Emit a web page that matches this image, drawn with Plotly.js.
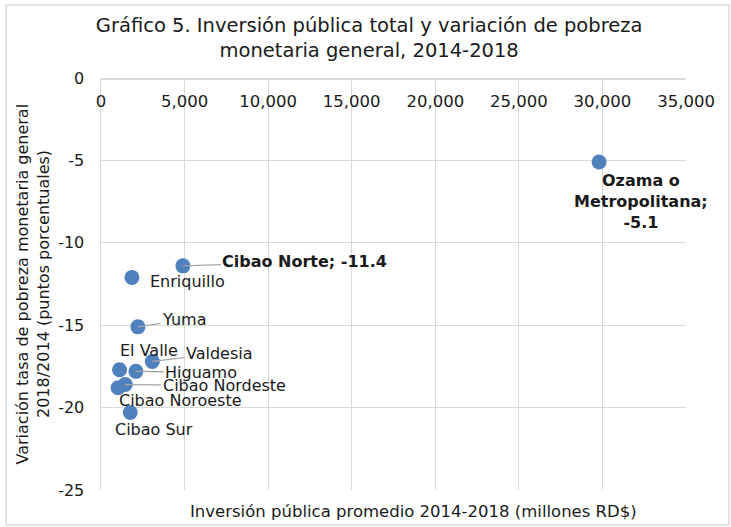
<!DOCTYPE html>
<html>
<head>
<meta charset="utf-8">
<script src="https://cdn.plot.ly/plotly-3.0.1.min.js"></script>
<style>html,body{margin:0;padding:0;background:#fff;}#chart{width:731px;height:527px;}</style>
</head>
<body>
<div id="chart"></div>
<script>
// ---- data ----
const regiones = ["Ozama o Metropolitana", "Cibao Norte", "Enriquillo", "Yuma", "Valdesia", "El Valle", "Higuamo", "Cibao Nordeste", "Cibao Noroeste", "Cibao Sur"];
const inversion = [29800, 4900, 1850, 2210, 3070, 1110, 2090, 1450, 1020, 1750];
const variacion = [-5.1, -11.4, -12.1, -15.1, -17.2, -17.7, -17.8, -18.6, -18.8, -20.3];
const labelTexts = ["<b>Ozama o<br>Metropolitana;<br>-5.1</b>", "<b>Cibao Norte; -11.4</b>", "Enriquillo", "Yuma", "Valdesia", "El Valle", "Higuamo", "Cibao Nordeste", "Cibao Noroeste", "Cibao Sur"];
const xTickVals = [0, 5000, 10000, 15000, 20000, 25000, 30000, 35000];
const xTickText = ["0", "5,000", "10,000", "15,000", "20,000", "25,000", "30,000", "35,000"];
const yTickVals = [0, -5, -10, -15, -20, -25];
const yTickText = ["0", "-5", "-10", "-15", "-20", "-25"];

// ---- label placement (styles, screen px offsets: +dx right, +dy down) ----
const labelStyle = {
  "Ozama o Metropolitana": {arrow: false, dx: 42, dy: 39},
  "Cibao Norte": {arrow: true, dx: 122, dy: -4},
  "Enriquillo": {arrow: false, dx: 56, dy: 4},
  "Yuma": {arrow: true, dx: 46, dy: -7},
  "Valdesia": {arrow: true, dx: 67, dy: -8},
  "El Valle": {arrow: false, dx: 29, dy: -19},
  "Higuamo": {arrow: true, dx: 65, dy: 1},
  "Cibao Nordeste": {arrow: true, dx: 99, dy: 1},
  "Cibao Noroeste": {arrow: false, dx: 62, dy: 13},
  "Cibao Sur": {arrow: false, dx: 24, dy: 17}
};

const FONT = "DejaVu Sans, Verdana, sans-serif";
const TXT = "#1a1a1a";
const GRID = "#d9d9d9";

const annotations = regiones.map((r, i) => {
  const s = labelStyle[r];
  const a = {
    x: inversion[i], y: variacion[i], xref: "x", yref: "y",
    text: labelTexts[i],
    font: {family: FONT, size: 16, color: TXT},
    xanchor: "center", yanchor: "middle"
  };
  if (s.arrow) {
    Object.assign(a, {showarrow: true, arrowhead: 0, arrowwidth: 1.3, arrowcolor: "#a6a6a6",
      ax: s.dx, ay: s.dy, axref: "pixel", ayref: "pixel", standoff: 0, startstandoff: 0});
  } else {
    Object.assign(a, {showarrow: false, xshift: s.dx, yshift: -s.dy});
  }
  return a;
});

const yTitleLines = ["Variación tasa de pobreza monetaria general", "2018/2014 (puntos porcentuales)"];
const yTitlePx = [21.5, 43];
yTitleLines.forEach((t, k) => {
  annotations.push({
    xref: "paper", yref: "paper", x: (yTitlePx[k] - 101) / 585, y: 0.5,
    text: t, textangle: -90, showarrow: false, xanchor: "center", yanchor: "middle",
    font: {family: FONT, size: 16, color: TXT}
  });
});
annotations.push({
  xref: "paper", yref: "paper", x: 0.535, y: -0.053,
  text: "Inversión pública promedio 2014-2018 (millones RD$)",
  showarrow: false, xanchor: "center", yanchor: "middle",
  font: {family: FONT, size: 16.5, color: TXT}
});

const trace = {
  type: "scatter", mode: "markers",
  x: inversion, y: variacion, text: regiones,
  marker: {color: "#4f81bd", size: 15, line: {width: 0}},
  hoverinfo: "text+x+y", cliponaxis: false
};

const layout = {
  width: 731, height: 527,
  margin: {l: 101, r: 45, t: 78, b: 37},
  paper_bgcolor: "#ffffff", plot_bgcolor: "#ffffff",
  showlegend: false,
  title: {
    text: "Gráfico 5. Inversión pública total y variación de pobreza<br>monetaria general, 2014-2018",
    font: {family: FONT, size: 19.5, color: TXT},
    x: 0.505, xanchor: "center", y: 0.94, yanchor: "top", yref: "container"
  },
  xaxis: {
    range: [0, 35000], side: "bottom", anchor: "free", position: 1,
    tickvals: xTickVals, ticktext: xTickText,
    ticks: "", ticklabelstandoff: 8,
    showgrid: true, gridcolor: GRID, gridwidth: 1,
    showline: true, linecolor: GRID, linewidth: 1.5, zeroline: false,
    tickfont: {family: FONT, size: 16.5, color: TXT}, fixedrange: true
  },
  yaxis: {
    range: [-25, 0], tickvals: yTickVals, ticktext: yTickText,
    ticks: "", ticklabelstandoff: 12,
    showgrid: true, gridcolor: GRID, gridwidth: 1,
    showline: true, linecolor: GRID, linewidth: 1.5, zeroline: false,
    tickfont: {family: FONT, size: 16, color: TXT}, fixedrange: true
  },
  annotations: annotations,
  shapes: [{
    type: "rect", xref: "paper", yref: "paper",
    x0: -0.162, x1: 1.0735, y0: -0.085, y1: 1.177,
    line: {color: GRID, width: 1.5}, fillcolor: "rgba(0,0,0,0)", layer: "below"
  }]
};

Plotly.newPlot("chart", [trace], layout, {displayModeBar: false, staticPlot: true});
</script>
</body>
</html>
